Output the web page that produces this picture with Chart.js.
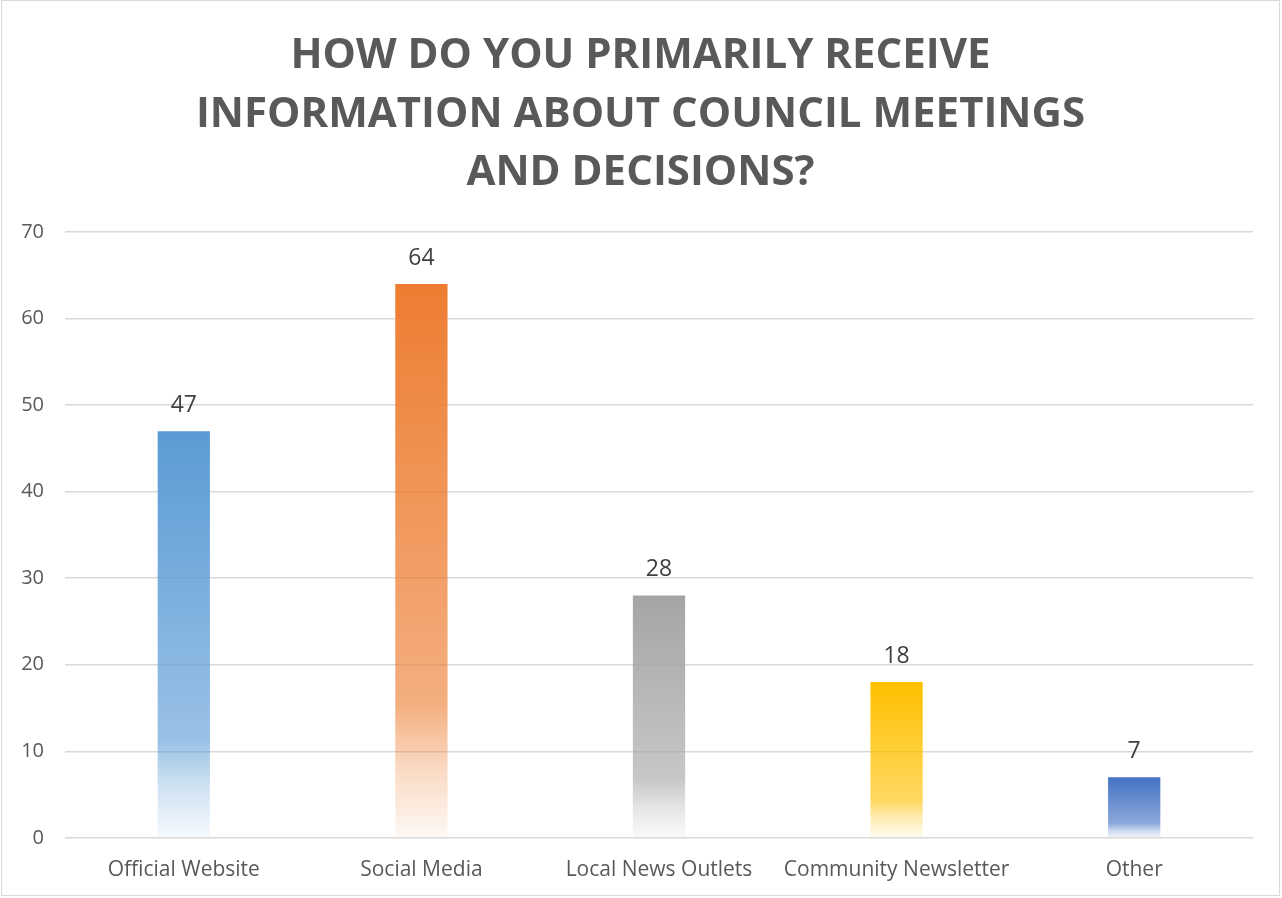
<!DOCTYPE html>
<html><head><meta charset="utf-8">
<script src="https://cdn.jsdelivr.net/npm/chart.js@4.4.1/dist/chart.umd.min.js"></script>
<style>
html,body{margin:0;padding:0;background:#fff;}
#wrap{position:absolute;left:1px;top:0;width:1279px;height:896px;border:1px solid #d9d9d9;box-sizing:border-box;}
canvas{display:block;}
</style></head><body>
<div id="wrap"><canvas id="c"></canvas></div>
<script>
const titleLines = ['HOW DO YOU PRIMARILY RECEIVE','INFORMATION ABOUT COUNCIL MEETINGS','AND DECISIONS?'];
const categories = ['Official Website','Social Media','Local News Outlets','Community Newsletter','Other'];
const values = [47, 64, 28, 18, 7];
const barColors = [[91,155,213],[237,125,49],[165,165,165],[255,192,0],[68,114,196]];
const yTicks = [0,10,20,30,40,50,60,70];

function rgba(c,a){return 'rgba('+c[0]+','+c[1]+','+c[2]+','+a+')';}

const labelPlugin = {
  id:'barLabels',
  afterLayout(chart){
    if(chart.titleBlock){
      chart.titleBlock.left = 0;
      chart.titleBlock.right = chart.width;
      chart.titleBlock.width = chart.width;
    }
  },
  afterDatasetsDraw(chart){
    const ctx = chart.ctx;
    const meta = chart.getDatasetMeta(0);
    ctx.save();
    ctx.font = '23px "Open Sans"';
    ctx.fillStyle = '#404040';
    ctx.textAlign = 'center';
    ctx.textBaseline = 'middle';
    meta.data.forEach((bar,i)=>{
      ctx.fillText(String(values[i]), bar.x, bar.y - 26);
    });
    ctx.restore();
  }
};

new Chart(document.getElementById('c'), {
  type:'bar',
  data:{
    labels:categories,
    datasets:[{
      data:values,
      backgroundColor(context){
        const chart = context.chart;
        const i = context.dataIndex;
        const c = barColors[i % barColors.length];
        const ys = chart.scales.y;
        if(!chart.chartArea || !ys || context.type!=='data') return rgba(c,1);
        const top = ys.getPixelForValue(values[i]);
        const bot = ys.getPixelForValue(0);
        if(!isFinite(top)||!isFinite(bot)||bot<=top) return rgba(c,1);
        const g = chart.ctx.createLinearGradient(0, top, 0, bot);
        g.addColorStop(0, rgba(c,1));
        g.addColorStop(0.76, rgba(c,0.62));
        g.addColorStop(0.87, rgba(c,0.3));
        g.addColorStop(1, rgba(c,0.05));
        return g;
      },
      borderWidth:0,
      barPercentage:0.55,
      categoryPercentage:0.4
    }]
  },
  options:{
    responsive:true,
    maintainAspectRatio:false,
    animation:false,
    layout:{padding:{left:0,right:26,top:13,bottom:0}},
    plugins:{
      legend:{display:false},
      tooltip:{enabled:false},
      title:{
        display:true,
        text:titleLines,
        color:'#595959',
        font:{family:'"Open Sans"',size:42,weight:'bold',lineHeight:1.39},
        padding:{top:13,bottom:30}
      }
    },
    scales:{
      x:{
        grid:{display:false},
        border:{display:false},
        ticks:{color:'#595959',font:{family:'"Open Sans"',size:21},padding:12}
      },
      y:{
        min:0,max:70,
        afterBuildTicks(axis){axis.ticks = yTicks.map(v=>({value:v}));},
        afterFit(axis){axis.width = 63;},
        grid:{color:'#d9d9d9',lineWidth:1.5,drawTicks:false},
        border:{display:false},
        ticks:{color:'#595959',font:{family:'"Open Sans"',size:20},padding:21}
      }
    }
  },
  plugins:[labelPlugin]
});
</script>
</body></html>
